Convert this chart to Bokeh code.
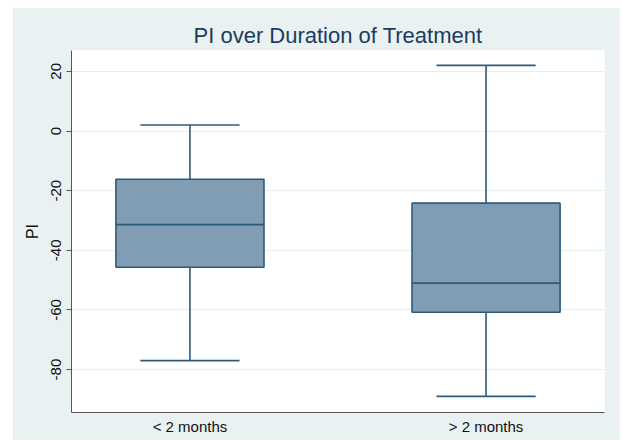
from bokeh.plotting import figure
from bokeh.models import FixedTicker, Range1d
from bokeh.embed import file_html
from bokeh.resources import INLINE

# Data
categories = ["< 2 months", "> 2 months"]
positions = [1, 2]
lower_whisker = [-77, -89]
q1 = [-45.7, -60.8]
median = [-31.4, -51.0]
q3 = [-16.2, -24.2]
upper_whisker = [2, 22]
y_ticks = [-80, -60, -40, -20, 0, 20]
y_tick_labels = ["-80", "-60", "-40", "-20", "0", "20"]

BG = "#e9f1f2"
FILL = "#819db3"
LINE = "#2c5a7d"
FONT = "Liberation Sans"

p = figure(width=608, height=433, output_backend="svg", toolbar_location=None,
           x_range=Range1d(0.6, 2.4), y_range=Range1d(-94.4, 27.0),
           min_border_left=59, min_border_right=16, min_border_top=43, min_border_bottom=28)
p.margin = (7, 2, 4, 12)

p.background_fill_color = "white"
p.border_fill_color = BG
p.outline_line_color = None

p.title.text = "PI over Duration of Treatment"
p.title.align = "center"
p.title.text_font = FONT
p.title.text_font_size = "22px"
p.title.text_font_style = "normal"
p.title.text_color = "#1e3b5e"
p.title.standoff = 6

box_w = 0.5
cap_w = 0.335
cap_l = [x - cap_w / 2 for x in positions]
cap_r = [x + cap_w / 2 for x in positions]
box_l = [x - box_w / 2 for x in positions]
box_r = [x + box_w / 2 for x in positions]

# whiskers
p.segment(positions, q3, positions, upper_whisker, line_color=LINE, line_width=1.6)
p.segment(positions, q1, positions, lower_whisker, line_color=LINE, line_width=1.6)
p.segment(cap_l, upper_whisker, cap_r, upper_whisker, line_color=LINE, line_width=1.6)
p.segment(cap_l, lower_whisker, cap_r, lower_whisker, line_color=LINE, line_width=1.6)
# boxes
p.vbar(x=positions, width=box_w, top=q3, bottom=q1, fill_color=FILL, line_color=LINE, line_width=1.6)
p.segment(box_l, median, box_r, median, line_color=LINE, line_width=1.6)

# grid
p.xgrid.grid_line_color = None
p.ygrid.grid_line_color = "#e6eff0"
p.ygrid.grid_line_width = 1.2
p.ygrid.ticker = FixedTicker(ticks=y_ticks)

# y axis
p.yaxis.ticker = FixedTicker(ticks=y_ticks)
p.yaxis.major_label_overrides = {t: s for t, s in zip(y_ticks, y_tick_labels)}
p.yaxis.axis_label = "PI"
p.yaxis.axis_label_text_font = FONT
p.yaxis.axis_label_text_font_size = "16px"
p.yaxis.axis_label_text_font_style = "normal"
p.yaxis.axis_label_text_color = "#111111"
p.yaxis.axis_label_standoff = 8
p.yaxis.major_label_orientation = "vertical"
p.yaxis.major_label_text_font = FONT
p.yaxis.major_label_text_font_size = "15px"
p.yaxis.major_label_text_color = "#111111"
p.yaxis.major_label_standoff = 5
p.yaxis.major_tick_out = 5
p.yaxis.major_tick_in = 0
p.yaxis.minor_tick_line_color = None
p.yaxis.axis_line_color = "#555555"
p.yaxis.major_tick_line_color = "#555555"

# x axis
p.xaxis.ticker = FixedTicker(ticks=positions)
p.xaxis.major_label_overrides = {pos: cat for pos, cat in zip(positions, categories)}
p.xaxis.major_label_text_font = FONT
p.xaxis.major_label_text_font_size = "15px"
p.xaxis.major_label_text_color = "#111111"
p.xaxis.major_label_standoff = 5
p.xaxis.major_tick_out = 0
p.xaxis.major_tick_in = 0
p.xaxis.major_tick_line_color = None
p.xaxis.minor_tick_line_color = None
p.xaxis.axis_line_color = "#555555"

open("out.html", "w").write(file_html(p, INLINE))
